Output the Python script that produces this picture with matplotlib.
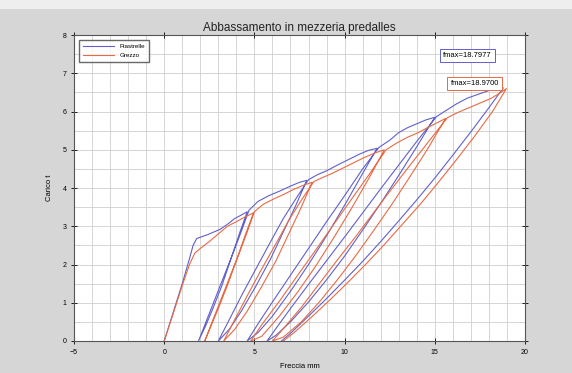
import matplotlib
matplotlib.use("Agg")
import matplotlib.pyplot as plt
from matplotlib.patches import Rectangle

plt.rcParams['font.family'] = ['Liberation Sans', 'DejaVu Sans']

# Piastrelle (blue): load cycles, one continuous path
blu_x = [0.0, 0.5, 1.0, 1.4, 1.6, 1.8, 2.4, 3.1, 3.5, 3.9, 4.3, 4.6,
         4.2, 3.7, 3.2, 2.7, 2.3, 1.9,
         2.4, 2.9, 3.4, 3.9, 4.3, 4.7, 5.2, 5.8, 6.4, 7.0, 7.5, 7.9,
         7.3, 6.6, 5.9, 5.1, 4.3, 3.6, 3.0,
         3.6, 4.3, 5.1, 5.9, 6.6, 7.3, 8.0, 8.5, 9.0, 9.6, 10.2, 10.8, 11.3, 11.8,
         11.0, 10.0, 9.0, 8.0, 7.0, 6.0, 5.2, 4.6,
         5.2, 6.0, 7.0, 8.0, 9.0, 10.0, 11.0, 11.9, 12.5, 13.0, 13.5, 14.0, 14.5, 15.0,
         14.0, 13.0, 12.0, 11.0, 10.0, 9.0, 8.0, 7.0, 6.2, 5.7,
         6.2, 7.0, 8.0, 9.0, 10.0, 11.0, 12.0, 13.0, 14.0, 15.1, 15.6, 16.2, 16.8, 17.4, 18.0, 18.8,
         18.0, 17.0, 16.0, 15.0, 14.0, 13.0, 12.0, 11.0, 10.0, 9.0, 8.0, 7.0, 6.5]
blu_y = [0.0, 0.75, 1.5, 2.15, 2.5, 2.68, 2.78, 2.92, 3.05, 3.2, 3.3, 3.38,
         2.85, 2.15, 1.45, 0.85, 0.4, 0.0,
         0.6, 1.2, 1.8, 2.4, 2.9, 3.42, 3.65, 3.8, 3.92, 4.05, 4.15, 4.2,
         3.55, 2.85, 2.15, 1.45, 0.8, 0.3, 0.0,
         0.55, 1.2, 1.9, 2.6, 3.2, 3.72, 4.22, 4.35, 4.45, 4.6, 4.74, 4.88, 4.98, 5.04,
         4.38, 3.55, 2.75, 2.0, 1.3, 0.65, 0.22, 0.0,
         0.45, 1.02, 1.72, 2.42, 3.12, 3.8, 4.5, 5.06, 5.25, 5.45, 5.58, 5.68, 5.78, 5.85,
         5.08, 4.33, 3.6, 2.9, 2.22, 1.6, 1.02, 0.5, 0.15, 0.0,
         0.33, 0.85, 1.48, 2.1, 2.72, 3.35, 3.98, 4.6, 5.22, 5.87, 6.02, 6.2, 6.35, 6.45, 6.55, 6.62,
         6.1, 5.47, 4.86, 4.26, 3.69, 3.14, 2.6, 2.08, 1.59, 1.11, 0.65, 0.2, 0.0]

# Grezzo (red)
red_x = [0.0, 0.5, 1.0, 1.4, 1.7, 2.0, 2.5, 3.0, 3.5, 4.0, 4.5, 4.95,
         4.5, 4.0, 3.5, 3.0, 2.6, 2.25,
         2.7, 3.2, 3.7, 4.2, 4.6, 5.0, 5.5, 6.1, 6.7, 7.2, 7.7, 8.2,
         7.6, 6.9, 6.2, 5.4, 4.6, 3.9, 3.3,
         3.9, 4.6, 5.4, 6.2, 6.9, 7.6, 8.3, 8.8, 9.3, 9.9, 10.5, 11.1, 11.7, 12.2,
         11.4, 10.4, 9.4, 8.4, 7.4, 6.4, 5.4, 4.8,
         5.4, 6.4, 7.4, 8.4, 9.4, 10.4, 11.4, 12.3, 12.9, 13.5, 14.1, 14.6, 15.1, 15.6,
         14.6, 13.6, 12.6, 11.6, 10.6, 9.6, 8.6, 7.6, 6.6, 6.0,
         6.6, 7.6, 8.6, 9.6, 10.6, 11.6, 12.6, 13.6, 14.6, 15.7, 16.3, 16.9, 17.5, 18.1, 18.6, 18.97,
         18.2, 17.2, 16.2, 15.2, 14.2, 13.2, 12.2, 11.2, 10.2, 9.2, 8.2, 7.2, 6.6]
red_y = [0.0, 0.72, 1.45, 2.0, 2.3, 2.42, 2.6, 2.8, 3.0, 3.12, 3.25, 3.35,
         2.78, 2.1, 1.45, 0.85, 0.4, 0.0,
         0.55, 1.15, 1.75, 2.35, 2.85, 3.38, 3.58, 3.72, 3.85, 3.97, 4.07, 4.15,
         3.5, 2.8, 2.1, 1.42, 0.78, 0.3, 0.0,
         0.55, 1.18, 1.88, 2.55, 3.15, 3.68, 4.17, 4.28, 4.38, 4.52, 4.66, 4.8, 4.92, 5.0,
         4.3, 3.48, 2.7, 1.96, 1.28, 0.66, 0.12, 0.0,
         0.42, 1.05, 1.72, 2.38, 3.05, 3.72, 4.38, 5.0, 5.18, 5.33, 5.45, 5.58, 5.7, 5.82,
         5.02, 4.28, 3.56, 2.88, 2.22, 1.6, 1.02, 0.5, 0.1, 0.0,
         0.32, 0.88, 1.5, 2.12, 2.72, 3.35, 3.97, 4.58, 5.18, 5.84, 5.98, 6.1, 6.22, 6.34, 6.48, 6.6,
         6.0, 5.35, 4.74, 4.15, 3.58, 3.05, 2.52, 2.02, 1.54, 1.08, 0.64, 0.22, 0.0]

fmax_blu = 18.7977
fmax_red = 18.9700

fig = plt.figure(figsize=(5.72, 3.73), dpi=100, facecolor='#d6d6d6')
fig.patches.append(Rectangle((0, 0.975), 1, 0.025, transform=fig.transFigure,
                             facecolor='#eeeeee', edgecolor='none'))
ax = fig.add_axes([0.1294, 0.0858, 0.7884, 0.8202])
ax.set_facecolor('white')

ax.plot(blu_x, blu_y, color='#6060cc', lw=0.8, label='Piastrelle')
ax.plot(red_x, red_y, color='#e86a44', lw=0.8, label='Grezzo')

ax.set_xlim(-5, 20)
ax.set_ylim(0, 8)
ax.set_xticks(range(-5, 21, 5))
ax.set_yticks(range(0, 9))
ax.set_xticks(range(-5, 21), minor=True)
ax.set_yticks([i * 0.5 for i in range(17)], minor=True)
ax.grid(which='both', color='#cfcfcf', lw=0.6)
ax.set_axisbelow(True)
ax.tick_params(which='major', direction='inout', length=4, width=0.6,
               labelsize=5, top=True, right=True, pad=3.5)
ax.tick_params(which='minor', length=0)
for s in ax.spines.values():
    s.set_linewidth(0.8)
    s.set_color('#555555')

ax.set_title('Abbassamento in mezzeria predalles', fontsize=8.5, pad=3, color='#222222')
ax.set_xlabel('Freccia mm', fontsize=5.5, labelpad=5)
ax.set_ylabel('Carico t', fontsize=5.5, labelpad=7)

ax.legend(loc='upper left', fontsize=4.5, frameon=True, fancybox=False,
          edgecolor='#444444', handlelength=5, borderpad=0.6, labelspacing=0.6,
          bbox_to_anchor=(0.005, 0.995))

ax.text(18.15, 7.47, 'fmax=%.4f' % fmax_blu, fontsize=5.5, ha='right', va='center',
        bbox=dict(boxstyle='square,pad=0.4', facecolor='white', edgecolor='#6060cc', lw=0.7))
ax.text(18.55, 6.73, 'fmax=%.4f' % fmax_red, fontsize=5.5, ha='right', va='center',
        bbox=dict(boxstyle='square,pad=0.4', facecolor='white', edgecolor='#e86a44', lw=0.7))

fig.savefig('out.png', dpi=100, facecolor=fig.get_facecolor())
